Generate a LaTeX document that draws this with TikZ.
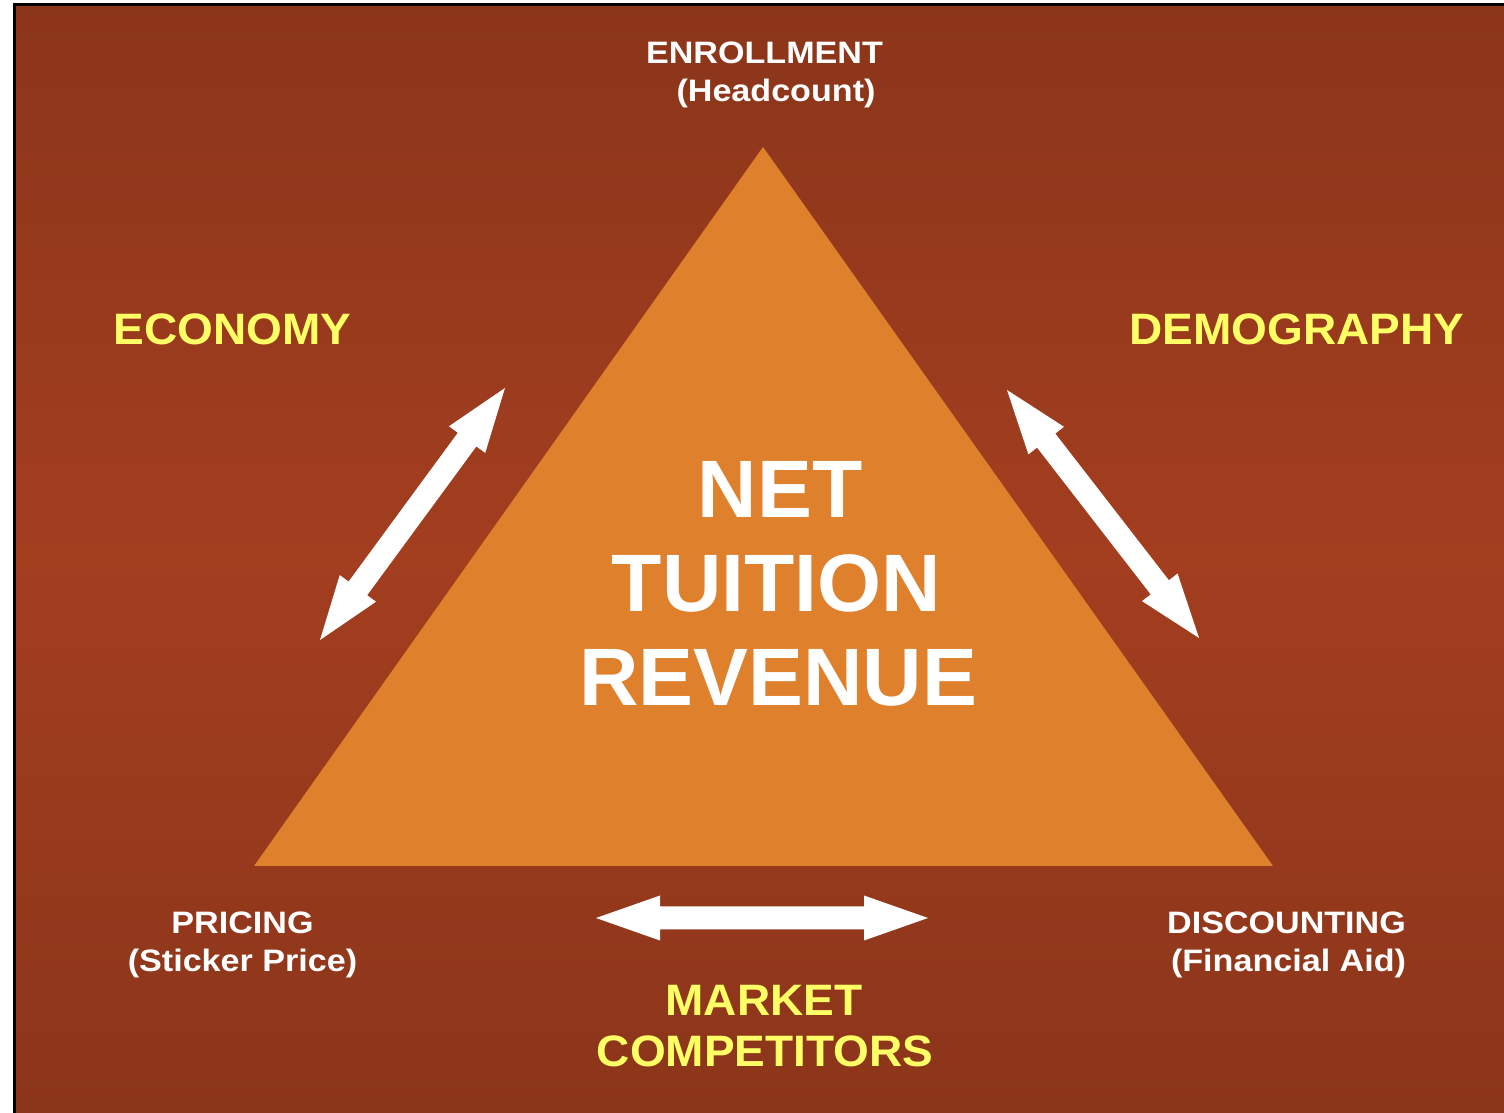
\documentclass[tikz,border=0pt]{standalone}
\usepackage{fontspec}
\setmainfont{Liberation Sans}
\newfontfamily\smallwide[FakeStretch=1.1]{Liberation Sans}
\newfontfamily\midwide[FakeStretch=1.045]{Liberation Sans}
\newfontfamily\bigwide[FakeStretch=1.01]{Liberation Sans}
\definecolor{bgdark}{RGB}{139,53,26}
\definecolor{bgmid}{RGB}{163,62,31}
\definecolor{triorange}{RGB}{223,128,45}
\definecolor{labyellow}{RGB}{255,255,102}
\tikzset{
  smalltext/.style={text=white, inner sep=0pt, anchor=base, font=\smallwide\bfseries\fontsize{31}{38}\selectfont},
  yellowtext/.style={text=labyellow, inner sep=0pt, anchor=base, font=\midwide\bfseries\fontsize{44}{52}\selectfont},
  bigtext/.style={text=white, inner sep=0pt, anchor=base, font=\bigwide\bfseries\fontsize{81.5}{94}\selectfont},
  arrowfill/.style={fill=white, draw=none},
}
% double arrow of length #1 drawn along local x axis
\newcommand\dblarrowshape[1]{%
  \fill[arrowfill] (0,0) -- (64,22.5) -- (64,11.5) -- ({#1-64},11.5) -- ({#1-64},22.5) -- (#1,0)
    -- ({#1-64},-22.5) -- ({#1-64},-11.5) -- (64,-11.5) -- (64,-22.5) -- cycle;}
\begin{document}
\begin{tikzpicture}[x=1pt,y=1pt]
\useasboundingbox (0,0) rectangle (1504,1113);
\fill[white] (0,0) rectangle (1504,1113);
% background
\shade[top color=bgdark, bottom color=bgdark, middle color=bgmid] (14,0) rectangle (1504,1109);
\draw[black, line width=2.5pt] (14.5,0) -- (14.5,1108.5) -- (1504,1108.5);
% triangle
\coordinate (apex) at (763,966);
\coordinate (bl) at (254,247);
\coordinate (br) at (1273,247);
\fill[triorange] (apex) -- (bl) -- (br) -- cycle;
% arrows
\coordinate (la1) at (320,473);
\coordinate (la2) at (505,725);
\coordinate (ra1) at (1007,723);
\coordinate (ra2) at (1199,475);
\coordinate (ha1) at (596,195);
\coordinate (ha2) at (928,195);
\begin{scope}[shift={(la1)}, rotate=53.72]
  \dblarrowshape{312.6}
\end{scope}
\begin{scope}[shift={(ra1)}, rotate=-52.25]
  \dblarrowshape{313.6}
\end{scope}
\begin{scope}[shift={(ha1)}]
  \dblarrowshape{332}
\end{scope}
% labels
\node[smalltext] (enroll) at (764.5,1049) {ENROLLMENT};
\node[smalltext] (headcount) at (776,1011.3) {(Headcount)};
\node[yellowtext] (economy) at (232.5,768) {ECONOMY};
\node[yellowtext] (demography) at (1297,768) {DEMOGRAPHY};
\node[bigtext] (net) at (780,595) {NET};
\node[bigtext] (tuition) at (776.5,501.3) {TUITION};
\node[bigtext] (revenue) at (778,407.3) {REVENUE};
\node[smalltext] (pricing) at (242.5,179.7) {PRICING};
\node[smalltext] (sticker) at (242.5,141.3) {(Sticker Price)};
\node[smalltext] (discount) at (1286.5,179.7) {DISCOUNTING};
\node[smalltext] (finaid) at (1288.5,141.3) {(Financial Aid)};
\node[yellowtext] (market) at (764,97) {MARKET};
\node[yellowtext] (competitors) at (765,46.3) {COMPETITORS};
\end{tikzpicture}
\end{document}
